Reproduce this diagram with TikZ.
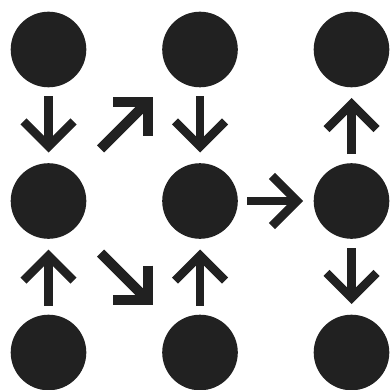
\documentclass[tikz,border=0pt]{standalone}
\usetikzlibrary{arrows.meta}
\definecolor{ink}{HTML}{212121}
\begin{document}
\begin{tikzpicture}[x=1pt,y=-1pt,
  dot/.style={circle,fill=ink,draw=none,minimum size=75.6pt,inner sep=0pt},
  conn/.style={draw=ink,line width=8.5pt,line cap=butt,
    -{Straight Barb[sharp,length=25pt,width=50pt]},
    shorten <=9pt, shorten >=10.5pt},
  diag/.style={draw=ink,line width=10pt,line cap=butt,
    -{Straight Barb[sharp,length=24.5pt,width=49pt]},
    shorten <=35.7pt, shorten >=28.8pt}]
\useasboundingbox (0,0) rectangle (390,390);
\node[dot] (a11) at (48.5,49.5) {};
\node[dot] (a21) at (200,49.5) {};
\node[dot] (a31) at (351.5,49.5) {};
\node[dot] (a12) at (48.5,201) {};
\node[dot] (a22) at (200,201) {};
\node[dot] (a32) at (351.5,201) {};
\node[dot] (a13) at (48.5,352.5) {};
\node[dot] (a23) at (200,352.5) {};
\node[dot] (a33) at (351.5,352.5) {};
\draw[conn] (a11) -- (a12);
\draw[conn] (a21) -- (a22);
\draw[conn] (a32) -- (a31);
\draw[conn] (a22) -- (a32);
\draw[conn] (a13) -- (a12);
\draw[conn] (a23) -- (a22);
\draw[conn] (a32) -- (a33);
\draw[diag] (a12) -- (a21);
\draw[diag] (a12) -- (a23);
\end{tikzpicture}
\end{document}
